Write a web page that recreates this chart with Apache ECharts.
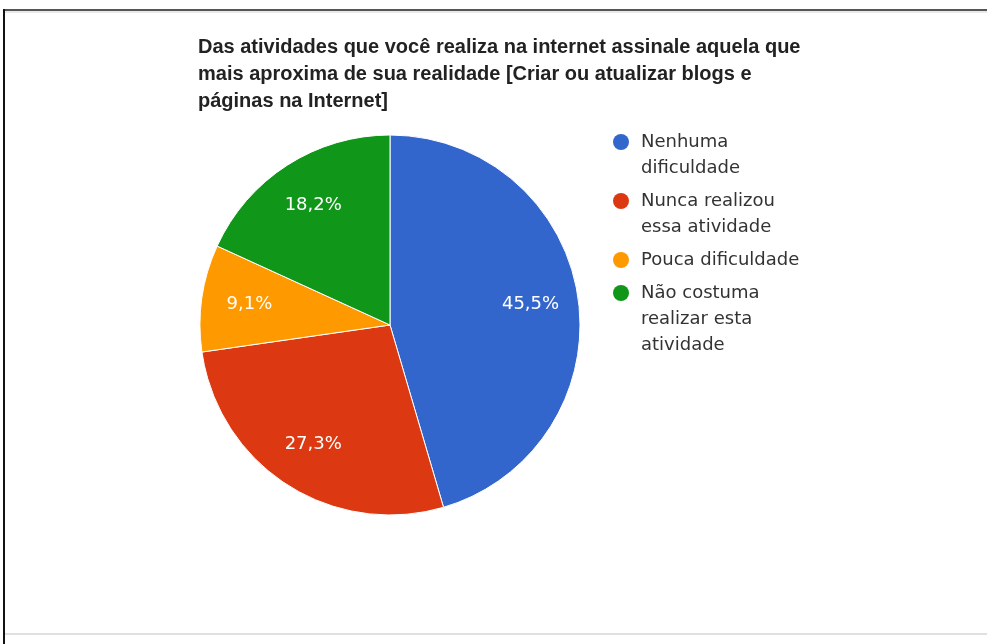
<!DOCTYPE html>
<html>
<head>
<meta charset="utf-8">
<script src="https://cdn.jsdelivr.net/npm/echarts@6/dist/echarts.min.js"></script>
<style>
html,body{margin:0;padding:0;background:#fff;}
#chart{width:987px;height:644px;}
</style>
</head>
<body>
<div id="chart"></div>
<script>
const titleText = 'Das atividades que você realiza na internet assinale aquela que\nmais aproxima de sua realidade [Criar ou atualizar blogs e\npáginas na Internet]';
const categories = ['Nenhuma dificuldade', 'Nunca realizou essa atividade', 'Pouca dificuldade', 'Não costuma realizar esta atividade'];
const legendLines = [['Nenhuma', 'dificuldade'], ['Nunca realizou', 'essa atividade'], ['Pouca dificuldade'], ['Não costuma', 'realizar esta', 'atividade']];
const counts = [5, 3, 1, 2];
const colors = ['#3366cc', '#dc3912', '#ff9900', '#109618'];

const total = counts.reduce((a, b) => a + b, 0);
const pieData = categories.map((c, i) => ({ name: c, value: counts[i] }));

// legend layout: one legend per entry so the marker sits on the first text line
const LINE_H = 26;
const LEGEND_GAP = 7;
const LEGEND_FIRST_CENTER = 142;
const legends = [];
let centerY = LEGEND_FIRST_CENTER;
legendLines.forEach(function (lines, i) {
  const n = lines.length;
  // pad with blank lines above so that the first real line is the middle of the block
  const padded = new Array(n - 1).fill('').concat(lines).join('\n');
  const blockH = (2 * n - 1) * LINE_H;
  legends.push({
    orient: 'vertical',
    left: 613,
    top: centerY - blockH / 2,
    padding: 0,
    itemWidth: 30,
    itemHeight: 16,
    icon: 'circle',
    selectedMode: false,
    data: [categories[i]],
    formatter: function () { return padded; },
    itemStyle: { borderWidth: 0 },
    textStyle: {
      fontFamily: 'DejaVu Sans',
      fontSize: 18,
      color: '#333333',
      lineHeight: LINE_H
    }
  });
  centerY += n * LINE_H + LEGEND_GAP;
});

const chart = echarts.init(document.getElementById('chart'), null, { renderer: 'canvas' });
chart.setOption({
  animation: false,
  backgroundColor: '#ffffff',
  color: colors,
  title: {
    text: titleText,
    left: 198,
    top: 34,
    padding: 0,
    textStyle: {
      fontFamily: 'Liberation Sans',
      fontSize: 20,
      fontWeight: 'bold',
      color: '#222222',
      lineHeight: 27
    }
  },
  legend: legends,
  graphic: [
    { type: 'rect', shape: { x: 4, y: 9, width: 983, height: 2 }, style: { fill: '#555555' }, silent: true },
    { type: 'rect', shape: { x: 5, y: 11, width: 982, height: 2 }, style: { fill: '#e8e8e8' }, silent: true },
    { type: 'rect', shape: { x: 3, y: 9, width: 2, height: 635 }, style: { fill: '#111111' }, silent: true },
    { type: 'rect', shape: { x: 5, y: 633, width: 982, height: 2 }, style: { fill: '#e0e0e0' }, silent: true }
  ],
  series: [
    {
      type: 'pie',
      center: [390, 325],
      radius: [0, 190],
      startAngle: 90,
      clockwise: true,
      silent: true,
      data: pieData,
      label: { show: false },
      labelLine: { show: false },
      itemStyle: { borderColor: '#ffffff', borderWidth: 1 }
    },
    {
      type: 'pie',
      center: [390, 325],
      radius: [88, 190],
      startAngle: 90,
      clockwise: true,
      silent: true,
      legendHoverLink: false,
      data: pieData,
      itemStyle: { color: 'rgba(0,0,0,0)', borderWidth: 0 },
      label: {
        show: true,
        position: 'inside',
        color: '#ffffff',
        fontFamily: 'DejaVu Sans',
        fontSize: 18,
        formatter: function (p) { return (p.value / total * 100).toFixed(1).replace('.', ',') + '%'; }
      },
      labelLine: { show: false }
    }
  ]
});
</script>
</body>
</html>
